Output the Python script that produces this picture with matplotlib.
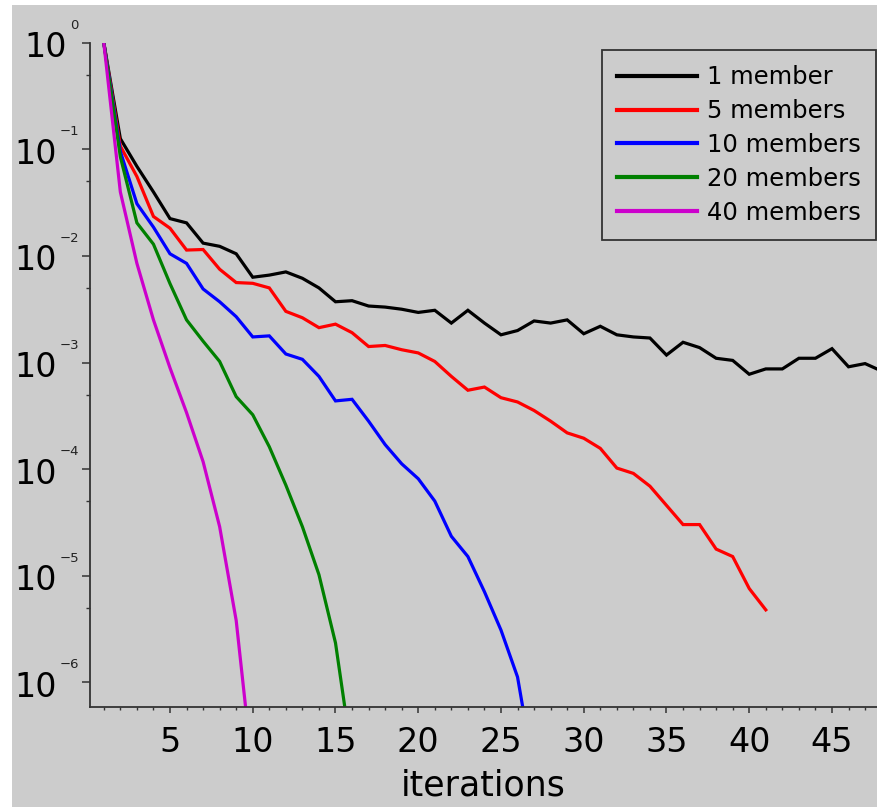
import matplotlib
matplotlib.use("Agg")
import matplotlib.pyplot as plt
import matplotlib.transforms as mtransforms
from matplotlib.lines import Line2D
from matplotlib.patches import Rectangle
from matplotlib.ticker import LogLocator, MultipleLocator, NullFormatter
import numpy as np

# Residual (log10) per iteration for each ensemble size
series_labels = ["1 member", "5 members", "10 members", "20 members", "40 members"]
series_colors = ["#000000", "#ff0000", "#0000ff", "#008000", "#cc00cc"]

log_res_1 = [0, -0.90, -1.16, -1.40, -1.65, -1.69, -1.88, -1.91, -1.98, -2.20,
             -2.18, -2.15, -2.21, -2.30, -2.43, -2.42, -2.47, -2.48, -2.50, -2.53,
             -2.51, -2.63, -2.51, -2.63, -2.74, -2.70, -2.61, -2.63, -2.60, -2.73,
             -2.66, -2.74, -2.76, -2.77, -2.93, -2.81, -2.86, -2.96, -2.98, -3.11,
             -3.06, -3.06, -2.96, -2.96, -2.87, -3.04, -3.01, -3.08]
log_res_5 = [0, -0.97, -1.255, -1.63, -1.74, -1.945, -1.94, -2.125, -2.25, -2.257,
             -2.30, -2.52, -2.58, -2.673, -2.64, -2.72, -2.85, -2.84, -2.88, -2.91,
             -2.99, -3.13, -3.26, -3.23, -3.33, -3.37, -3.45, -3.55, -3.66, -3.71,
             -3.805, -3.99, -4.04, -4.16, -4.34, -4.52, -4.52, -4.75, -4.82, -5.12,
             -5.32]
log_res_10 = [0, -1.02, -1.51, -1.73, -1.98, -2.07, -2.31, -2.43, -2.57, -2.76,
              -2.75, -2.92, -2.97, -3.13, -3.36, -3.345, -3.55, -3.77, -3.95, -4.09,
              -4.30, -4.63, -4.82, -5.15, -5.51, -5.95, -6.85]
log_res_20 = [0, -1.07, -1.69, -1.89, -2.26, -2.60, -2.80, -2.99, -3.32, -3.49,
              -3.79, -4.15, -4.54, -4.99, -5.63, -6.70]
log_res_40 = [0, -1.40, -2.07, -2.60, -3.05, -3.47, -3.93, -4.54, -5.42, -6.85]

all_series = [log_res_1, log_res_5, log_res_10, log_res_20, log_res_40]

x_ticks = [5, 10, 15, 20, 25, 30, 35, 40, 45]
y_decades = [0, -1, -2, -3, -4, -5, -6]

BG = "#cccccc"
W, H = 877, 807

fig = plt.figure(figsize=(W / 100, H / 100), dpi=100, facecolor="white")
# grey panel behind everything
panel = Rectangle((12 / W, 0), 1 - 12 / W, (H - 5) / H,
                  transform=fig.transFigure, facecolor=BG, edgecolor="none")
panel.set_zorder(-10)
fig.add_artist(panel)

ax_l, ax_r = 89.5, 877.0
ax_t, ax_b = 42.7, 707.3
ax = fig.add_axes([ax_l / W, (H - ax_b) / H, (ax_r - ax_l) / W, (ax_b - ax_t) / H])
ax.set_zorder(1)
ax.set_facecolor(BG)

for vals, col, lab in zip(all_series, series_colors, series_labels):
    it = np.arange(1, len(vals) + 1)
    ax.plot(it, 10.0 ** np.array(vals), color=col, lw=2.3, label=lab,
            solid_joinstyle="miter")

ax.set_yscale("log")
ax.set_xlim(0.136, 47.72)
ax.set_ylim(10 ** -6.234, 1.0)

for side in ("top", "right"):
    ax.spines[side].set_visible(False)
for side in ("left", "bottom"):
    ax.spines[side].set_color("#333333")
    ax.spines[side].set_linewidth(1.3)

ax.xaxis.set_major_locator(MultipleLocator(5))
ax.xaxis.set_minor_locator(MultipleLocator(1))
ax.set_xticks(x_ticks)
ax.set_xticklabels([str(t) for t in x_ticks])
ax.tick_params(axis="x", which="major", length=4.5, width=1.1, color="#333333",
               labelsize=24, pad=9)
ax.tick_params(axis="x", which="minor", length=2.5, width=1.0, color="#333333")

ax.yaxis.set_major_locator(LogLocator(base=10, numticks=20))
ax.yaxis.set_minor_locator(LogLocator(base=10, subs=(5.0,), numticks=20))
ax.yaxis.set_major_formatter(NullFormatter())
ax.yaxis.set_minor_formatter(NullFormatter())
ax.tick_params(axis="y", which="major", length=5.8, width=1.1, color="#333333")
ax.tick_params(axis="y", which="minor", length=2.6, width=1.0, color="#333333")

# y labels: "10" with a small raised exponent
ytr = ax.get_yaxis_transform()
for k in y_decades:
    right_px = 67 if k == 0 else 57
    base_tr = mtransforms.offset_copy(ytr, fig=fig, x=right_px - ax_l, y=-5, units="dots")
    ax.text(0, 10.0 ** k, "10", transform=base_tr, ha="right", va="center",
            fontsize=24, color="black", clip_on=False)
    exp_tr = mtransforms.offset_copy(ytr, fig=fig, x=right_px - ax_l + 3, y=14, units="dots")
    ax.text(0, 10.0 ** k, "0" if k == 0 else "\u2212%d" % (-k), transform=exp_tr,
            ha="left", va="baseline", fontsize=9.5, color="#222222", clip_on=False)

ax.set_xlabel("iterations", fontsize=25, labelpad=7)

handles = [Line2D([0], [0], color=c, lw=3.0) for c in series_colors]
leg = ax.legend(handles, series_labels, loc="upper right",
                bbox_to_anchor=(876 / W, (H - 50) / H), bbox_transform=fig.transFigure,
                fontsize=17.5, frameon=True, fancybox=False, borderaxespad=0,
                handlelength=3.3, handletextpad=0.42, labelspacing=0.41,
                borderpad=0.62)
frame = leg.get_frame()
frame.set_facecolor(BG)
frame.set_edgecolor("#333333")
frame.set_linewidth(1.3)
frame.set_alpha(1.0)

fig.savefig("out.png", dpi=100, facecolor="white")
